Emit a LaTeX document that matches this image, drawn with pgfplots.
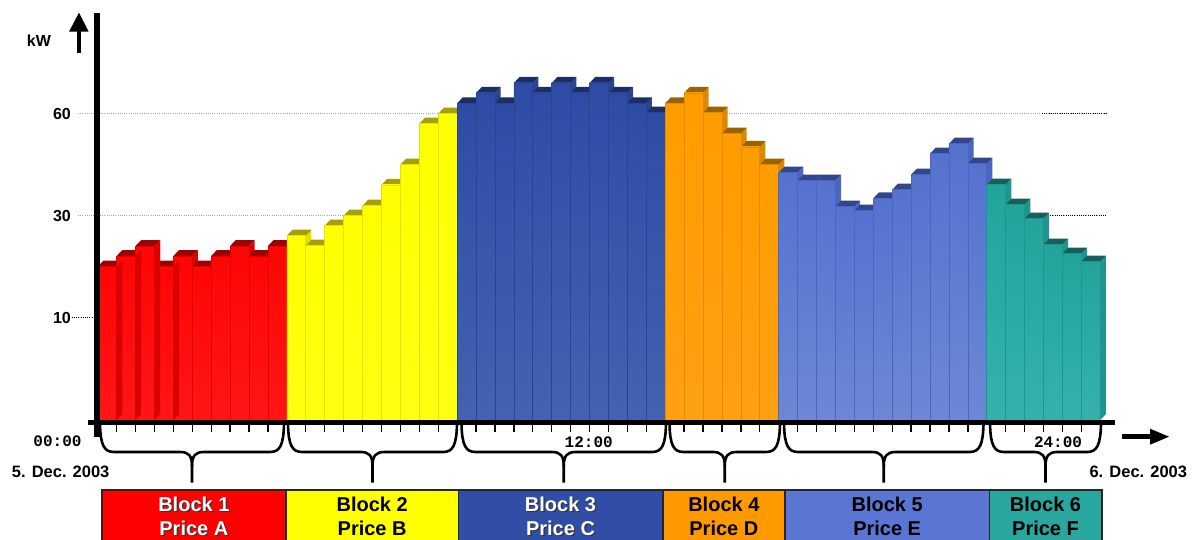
\documentclass[border=0pt]{standalone}
\usepackage{pgfplots}
\pgfplotsset{compat=1.18}
\usepackage{pgfplotstable}
\usepackage{fontspec}
\setmainfont{Liberation Sans}
\setmonofont{Liberation Mono}

% hourly load (h, drawn height) and price block (b) for each bar
\pgfplotstableread{
h b
153.3 1
164.0 1
174.0 1
153.3 1
164.0 1
153.3 1
164.0 1
174.0 1
164.0 1
174.0 1
184.3 2
174.3 2
194.3 2
204.3 2
214.3 2
235.0 2
255.3 2
296.3 2
306.3 2
316.7 3
327.0 3
316.7 3
337.0 3
327.0 3
337.0 3
327.0 3
337.0 3
327.0 3
316.7 3
307.3 3
316.7 4
327.0 4
307.3 4
286.3 4
273.0 4
255.3 4
247.3 5
239.3 5
239.3 5
213.3 5
209.3 5
221.7 5
230.3 5
245.3 5
266.3 5
276.3 5
256.3 5
235.3 6
215.3 6
201.3 6
175.3 6
166.3 6
158.3 6
}\loaddata

% front (top/bottom of gradient), top face, side face, edge line
\definecolor{ft1}{HTML}{FF0505}\definecolor{fb1}{HTML}{FF1616}\definecolor{tp1}{HTML}{9E0000}\definecolor{sd1}{HTML}{DA0000}\definecolor{ln1}{HTML}{E00000}
\definecolor{ft2}{HTML}{FFFF00}\definecolor{fb2}{HTML}{FFFF12}\definecolor{tp2}{HTML}{A3A000}\definecolor{sd2}{HTML}{E3E000}\definecolor{ln2}{HTML}{E6E200}
\definecolor{ft3}{HTML}{2E4CA6}\definecolor{fb3}{HTML}{4462B0}\definecolor{tp3}{HTML}{1D2D66}\definecolor{sd3}{HTML}{2A448F}\definecolor{ln3}{HTML}{2A4590}
\definecolor{ft4}{HTML}{FF9C00}\definecolor{fb4}{HTML}{FFA012}\definecolor{tp4}{HTML}{9C6200}\definecolor{sd4}{HTML}{DA8A00}\definecolor{ln4}{HTML}{E08C00}
\definecolor{ft5}{HTML}{5572D0}\definecolor{fb5}{HTML}{6C88D3}\definecolor{tp5}{HTML}{32468A}\definecolor{sd5}{HTML}{4A66BE}\definecolor{ln5}{HTML}{4A66BE}
\definecolor{ft6}{HTML}{22A49D}\definecolor{fb6}{HTML}{35B1AD}\definecolor{tp6}{HTML}{15605B}\definecolor{sd6}{HTML}{1F958E}\definecolor{ln6}{HTML}{1F958E}
% price block boxes
\definecolor{bx1}{HTML}{FF0000}
\definecolor{bx2}{HTML}{FFFF00}
\definecolor{bx3}{HTML}{304EA6}
\definecolor{bx4}{HTML}{FF9900}
\definecolor{bx5}{HTML}{5976D2}
\definecolor{bx6}{HTML}{29A79F}

% depth of the 3D bars (x in bar units, y in axis units)
\def\ddx{0.3}
\def\ddy{6}

\newcommand\sideface[1]{%
  \pgfplotstablegetelem{#1}{h}\of\loaddata \edef\barh{\pgfplotsretval}%
  \pgfplotstablegetelem{#1}{b}\of\loaddata \edef\barb{\pgfplotsretval}%
  \pgfmathsetmacro\xb{#1+1}\pgfmathsetmacro\xd{#1+1+\ddx}\pgfmathsetmacro\htop{\barh+\ddy}%
  \edef\temp{\noexpand\addplot[fill=sd\barb, draw=none, forget plot]
    coordinates {(\xb,0) (\xb,\barh) (\xd,\htop) (\xd,\ddy)} -- cycle;}%
  \temp}

\newcommand\loadbar[1]{%
  \pgfplotstablegetelem{#1}{h}\of\loaddata \edef\barh{\pgfplotsretval}%
  \pgfplotstablegetelem{#1}{b}\of\loaddata \edef\barb{\pgfplotsretval}%
  \pgfmathsetmacro\xa{#1}\pgfmathsetmacro\xb{#1+1}%
  \pgfmathsetmacro\xc{#1+\ddx}\pgfmathsetmacro\xd{#1+1+\ddx}\pgfmathsetmacro\htop{\barh+\ddy}%
  \edef\temp{%
    \noexpand\addplot[fill=sd\barb, draw=none, forget plot]
      coordinates {(\xb,0) (\xb,\barh) (\xd,\htop) (\xd,\ddy)} -- cycle;
    \noexpand\addplot[fill=tp\barb, draw=none, forget plot]
      coordinates {(\xa,\barh) (\xb,\barh) (\xd,\htop) (\xc,\htop)} -- cycle;
    \noexpand\addplot[top color=ft\barb, bottom color=fb\barb, draw=ln\barb, line width=0.6pt, forget plot]
      coordinates {(\xa,0) (\xa,\barh) (\xb,\barh) (\xb,0)} -- cycle;
  }%
  \temp}

\newcommand\blockbrace[2]{%
  \pgfmathsetmacro\bm{(#1+#2)/2}%
  \draw[line width=2.6pt, line join=round] (#1,424) .. controls (#1+0.5,445) and (#1+4,452) .. (#1+14,452)
     -- (\bm-12,452) .. controls (\bm-3,452) and (\bm,456) .. (\bm,466) -- (\bm,482.7);
  \draw[line width=2.6pt, line join=round] (\bm,466) .. controls (\bm,456) and (\bm+3,452) .. (\bm+12,452)
     -- (#2-14,452) .. controls (#2-4,452) and (#2-0.5,445) .. (#2,424);
}

\newcommand\blockbox[6]{% left, right, fill, text colour, line 1, line 2
  \pgfmathsetmacro\bc{(#1+#2)/2}%
  \fill[#3] (#1,490) rectangle (#2,545);
  \draw[line width=1.6pt, black!85] (#1,545) -- (#1,490) -- (#2,490) -- (#2,545);
  \ifx#4w
    \node[anchor=base, inner sep=0, text=black!80, font=\fontsize{20}{24}\selectfont\bfseries] at (\bc+1.3,512.9) {#5};
    \node[anchor=base, inner sep=0, text=black!80, font=\fontsize{20}{24}\selectfont\bfseries] at (\bc+1.3,536.9) {#6};
    \node[anchor=base, inner sep=0, text=white, font=\fontsize{20}{24}\selectfont\bfseries] at (\bc,511.7) {#5};
    \node[anchor=base, inner sep=0, text=white, font=\fontsize{20}{24}\selectfont\bfseries] at (\bc,535.7) {#6};
  \else
    \node[anchor=base, inner sep=0, text=black, font=\fontsize{20}{24}\selectfont\bfseries] at (\bc,511.7) {#5};
    \node[anchor=base, inner sep=0, text=black, font=\fontsize{20}{24}\selectfont\bfseries] at (\bc,535.7) {#6};
  \fi
}

\begin{document}
\begin{tikzpicture}
% guide lines behind the bars
\begin{scope}[x=1pt,y=-1pt]
  \draw[gray!70, line width=0.6pt, dash pattern=on 1pt off 1.2pt] (78,113) -- (1106,113);
  \draw[gray!70, line width=0.6pt, dash pattern=on 1pt off 1.2pt] (78,215.3) -- (1106,215.3);
  \draw[black, line width=0.6pt, dash pattern=on 1pt off 1.2pt] (1042,113) -- (1106,113);
  \draw[black, line width=0.6pt, dash pattern=on 1pt off 1.2pt] (1048,215.3) -- (1106,215.3);
  \draw[black, line width=0.7pt, dash pattern=on 1pt off 1.2pt] (71.7,317) -- (95,317);
\end{scope}

\begin{axis}[
  at={(97.7pt,-420pt)}, anchor=south west,
  scale only axis, width=1002.6pt, height=407.3pt,
  xmin=0, xmax=53, ymin=0, ymax=407.3,
  hide axis, clip=false]
  \pgfplotsinvokeforeach{0,...,52}{\loadbar{#1}}
  % side faces of the first red bars sit over their neighbours
  \pgfplotsinvokeforeach{0,...,3}{\sideface{#1}}
  % hour ticks below the time axis
  \pgfplotsinvokeforeach{1,...,9,11,12,...,18,20,21,...,29,31,32,...,35,37,38,...,46,48,49,...,52}{%
    \draw[line width=1.3pt] (axis cs:#1,0) ++(0,-5pt) -- ++(0,-6.7pt);}
\end{axis}

\begin{scope}[x=1pt,y=-1pt]
  % axes
  \fill[black] (94.3,12.7) rectangle (100,436.7);
  \fill[black] (88,420) rectangle (1115,425);
  % y arrow
  \fill[black] (76.6,31) rectangle (81.4,53);
  \fill[black] (69,31.7) -- (88.7,31.7) -- (79,12.7) -- cycle;
  % time arrow
  \fill[black] (1121.7,434.3) rectangle (1151,439.1);
  \fill[black] (1150,428.7) -- (1150,444.7) -- (1169,436.7) -- cycle;

  % value labels
  \node[anchor=base west, inner sep=0, font=\fontsize{16}{19}\selectfont\bfseries] at (26.7,46.7) {kW};
  \node[anchor=base east, inner sep=0, font=\fontsize{16}{19}\selectfont\bfseries] at (71,119.3) {60};
  \node[anchor=base east, inner sep=0, font=\fontsize{16}{19}\selectfont\bfseries] at (71,221.6) {30};
  \node[anchor=base east, inner sep=0, font=\fontsize{16}{19}\selectfont\bfseries] at (71,323.3) {10};

  % time labels
  \node[anchor=base, inner sep=0, font=\fontsize{16}{19}\selectfont\ttfamily\bfseries] at (57.5,446.7) {00:00};
  \node[anchor=base, inner sep=0, font=\fontsize{16}{19}\selectfont\ttfamily\bfseries] at (588.7,447.3) {12:00};
  \node[anchor=base, inner sep=0, font=\fontsize{16}{19}\selectfont\ttfamily\bfseries] at (1058,447.3) {24:00};
  \node[anchor=base west, inner sep=0, font=\fontsize{16.5}{19}\selectfont\bfseries] at (11.7,477.3) {5. Dec. 2003};
  \node[anchor=base east, inner sep=0, font=\fontsize{16.5}{19}\selectfont\bfseries] at (1187.3,477.3) {6. Dec. 2003};

  % braces grouping the hours into price blocks
  \blockbrace{100}{284}
  \blockbrace{288}{457}
  \blockbrace{461.5}{666}
  \blockbrace{669.5}{780}
  \blockbrace{784}{983.5}
  \blockbrace{990}{1101}

  % price blocks
  \blockbox{101.7}{286}{bx1}{w}{Block 1}{Price A}
  \blockbox{286}{458.3}{bx2}{k}{Block 2}{Price B}
  \blockbox{458.3}{662.7}{bx3}{w}{Block 3}{Price C}
  \blockbox{662.7}{785}{bx4}{k}{Block 4}{Price D}
  \blockbox{785}{989.3}{bx5}{k}{Block 5}{Price E}
  \blockbox{989.3}{1101.7}{bx6}{k}{Block 6}{Price F}
\end{scope}
\pgfresetboundingbox
\path[use as bounding box] (0,0) rectangle (1193pt,-540pt);
\end{tikzpicture}
\end{document}
